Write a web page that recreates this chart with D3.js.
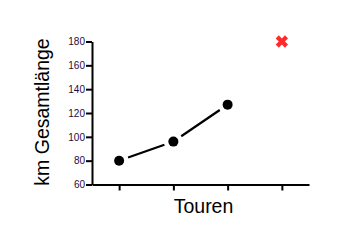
<!DOCTYPE html>
<html>
<head>
<meta charset="utf-8">
<script src="https://cdn.jsdelivr.net/npm/d3@7"></script>
<style>
html,body{margin:0;padding:0;background:#fff;}
svg{display:block;}
</style>
</head>
<body>
<div id="chart"></div>
<script>
const categories = ["1", "2", "3", "4"];
const lengthValues = [80, 96, 127, null];
const outlierValues = [null, null, null, 180];
const yTicks = [60, 80, 100, 120, 140, 160, 180];
const yTitle = "km Gesamtlänge";
const xTitle = "Touren";

const W = 349, H = 243;
const svg = d3.select("#chart").append("svg").attr("width", W).attr("height", H);

const x = d3.scalePoint().domain(categories).range([92, 309]).padding(0.5);
const y = d3.scaleLinear().domain([60, 180]).range([184.5, 41.5]);

// X axis
const xAxis = svg.append("g").attr("transform", `translate(0,${y(60)})`)
  .call(d3.axisBottom(x).tickSize(6).tickSizeOuter(0).tickFormat(""));
xAxis.select(".domain").attr("stroke", "#000").attr("stroke-width", 2);
xAxis.selectAll(".tick line").attr("stroke", "#000").attr("stroke-width", 2);

// Y axis
const yAxis = svg.append("g").attr("transform", `translate(92,0)`)
  .call(d3.axisLeft(y).tickValues(yTicks).tickSize(6).tickSizeOuter(0).tickPadding(1));
yAxis.select(".domain").attr("stroke", "#000").attr("stroke-width", 2);
yAxis.selectAll(".tick line").attr("stroke", "#000").attr("stroke-width", 2);
yAxis.selectAll(".tick text")
  .attr("font-family", "Liberation Sans, Arial, sans-serif")
  .attr("font-size", 10)
  .attr("fill", "#2a0a3a");

// Line segments with gaps near markers
const pts = categories.map((c, i) => ({c, v: lengthValues[i]})).filter(d => d.v != null);
const gap = 9.5;
for (let i = 0; i < pts.length - 1; i++) {
  const x1 = x(pts[i].c), y1 = y(pts[i].v), x2 = x(pts[i+1].c), y2 = y(pts[i+1].v);
  const dx = x2 - x1, dy = y2 - y1, L = Math.hypot(dx, dy);
  const ux = dx / L, uy = dy / L;
  svg.append("line")
    .attr("x1", x1 + ux * gap).attr("y1", y1 + uy * gap)
    .attr("x2", x2 - ux * gap).attr("y2", y2 - uy * gap)
    .attr("stroke", "#000").attr("stroke-width", 2.2);
}

svg.selectAll("circle.pt").data(pts).enter().append("circle")
  .attr("class", "pt")
  .attr("cx", d => x(d.c)).attr("cy", d => y(d.v)).attr("r", 5)
  .attr("fill", "#000");

// Outlier X markers
const outs = categories.map((c, i) => ({c, v: outlierValues[i]})).filter(d => d.v != null);
const cross = d3.symbol().type(d3.symbolCross).size(95);
svg.selectAll("path.out").data(outs).enter().append("path")
  .attr("class", "out")
  .attr("d", cross)
  .attr("transform", d => `translate(${x(d.c)},${y(d.v)}) rotate(45)`)
  .attr("fill", "#ff2a2a");

// Titles
svg.append("text")
  .attr("transform", `translate(48.5,112) rotate(-90)`)
  .attr("text-anchor", "middle")
  .attr("font-family", "Liberation Sans, Arial, sans-serif")
  .attr("font-size", 19.5)
  .attr("fill", "#000")
  .text(yTitle);

svg.append("text")
  .attr("x", 203.5).attr("y", 213.3)
  .attr("text-anchor", "middle")
  .attr("font-family", "Liberation Sans, Arial, sans-serif")
  .attr("font-size", 19.5)
  .attr("fill", "#000")
  .text(xTitle);
</script>
</body>
</html>
